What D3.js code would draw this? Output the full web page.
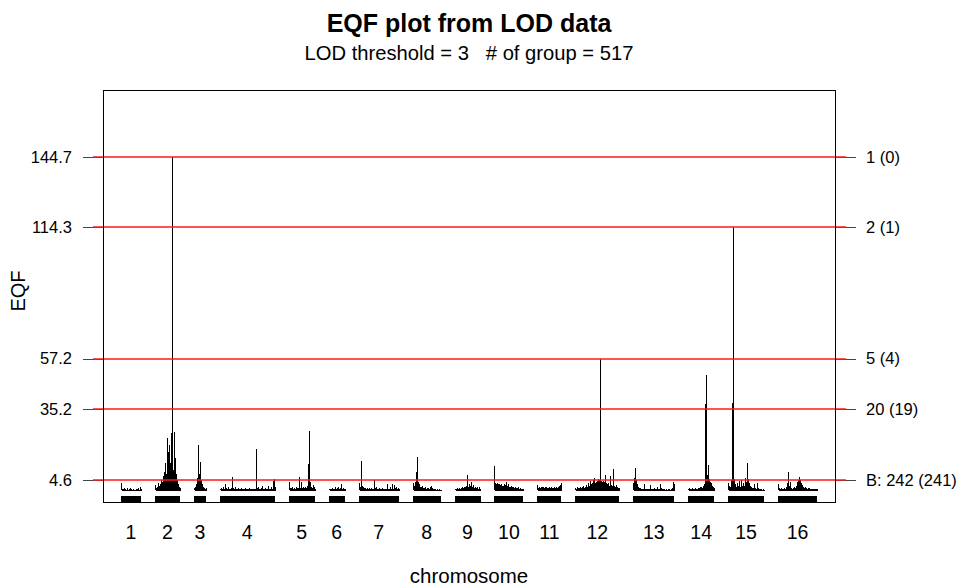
<!DOCTYPE html>
<html>
<head>
<meta charset="utf-8">
<script src="https://cdn.jsdelivr.net/npm/d3@7"></script>
<style>
  body { margin: 0; background: #fff; }
  text { font-family: "Liberation Sans", Arial, sans-serif; fill: #000; }
</style>
</head>
<body>
<div id="chart"></div>
<script>
var width = 959, height = 586;

// chromosome names and their lengths on the map (cM-like units)
var chromosomes = ['1', '2', '3', '4', '5', '6', '7', '8', '9', '10', '11', '12', '13', '14', '15', '16'];
var chrLength = [20, 25, 12, 55, 26, 16, 40, 28, 26, 29, 24, 44, 41, 26, 36, 39];
var chrGap = 14;

// EQF at each map position (one value per unit along the chromosome)
var eqf1 = [3.2, 0.5, 0.4, 1.0, 0.4, 0.3, 0.8, 0.3, 0.4, 0.9, 0.5, 0.3, 0.6, 0.3, 0.3, 0.7, 0.4, 0.9, 0.3, 1.4, 0.6];
var eqf2 = [2.4, 1.0, 1.5, 3.0, 1.8, 2.5, 4.5, 3.5, 6.0, 8.0, 11.7, 7.0, 22.5, 16.8, 19.6, 12.0, 24.7, 144.7, 9.0, 25.4, 14.0, 7.0, 4.5, 2.5, 1.5, 1.0];
var eqf3 = [0.8, 1.5, 2.5, 5.3, 19.6, 7.0, 12.4, 4.5, 2.5, 1.5, 0.8, 0.6, 1.0];
var eqf4 = [0.5, 0.8, 0.5, 1.2, 0.5, 2.5, 1.0, 0.6, 1.6, 0.7, 0.5, 1.0, 5.6, 0.8, 0.6, 1.2, 0.5, 0.4, 0.8, 0.5,
            0.6, 0.9, 0.5, 0.4, 0.6, 0.8, 0.5, 0.4, 0.6, 0.9, 0.4, 0.5, 0.7, 0.4, 0.6, 0.5, 17.9, 0.8, 1.5, 0.6,
            0.5, 0.8, 1.8, 0.6, 0.5, 1.0, 0.4, 0.6, 1.8, 0.5, 0.6, 1.2, 0.5, 4.1, 4.7, 1.5];
var eqf5 = [3.8, 1.0, 0.8, 1.2, 0.6, 0.8, 0.7, 1.2, 0.8, 1.0, 5.7, 0.8, 3.5, 1.0, 1.6, 0.8, 1.6, 1.0, 1.8, 11.3,
            25.8, 3.8, 1.5, 1.0, 2.3, 1.5, 0.6];
var eqf6 = [0.4, 0.6, 0.5, 0.9, 0.5, 0.6, 1.2, 0.5, 0.8, 1.3, 0.6, 0.9, 2.6, 0.7, 1.0, 0.5, 0.4];
var eqf7 = [3.0, 1.5, 12.8, 2.0, 1.2, 0.8, 1.0, 0.6, 0.8, 0.5, 0.9, 0.6, 0.8, 0.5, 0.4, 4.5, 0.8, 1.2, 0.6, 0.5,
            0.9, 0.5, 0.6, 0.8, 0.4, 0.5, 0.6, 0.4, 2.6, 0.7, 0.5, 1.5, 0.6, 2.6, 0.6, 2.3, 0.8, 1.2, 0.5, 1.0, 0.5];
var eqf8 = [3.0, 2.0, 3.8, 8.1, 14.6, 3.8, 2.5, 1.5, 1.2, 2.0, 1.0, 0.8, 1.4, 0.6, 0.8, 1.0, 0.6, 1.2, 1.8, 0.8,
            0.5, 0.4, 0.5, 0.3, 0.4, 0.3, 0.4, 0.3, 0.3];
var eqf9 = [0.4, 0.6, 0.8, 0.5, 1.0, 0.6, 0.8, 1.2, 0.9, 1.5, 1.3, 2.0, 6.7, 1.5, 2.6, 1.2, 1.8, 3.5, 1.5, 2.2,
            1.0, 1.5, 0.8, 1.2, 0.6, 1.5, 0.4];
var eqf10 = [10.7, 3.0, 2.8, 3.2, 2.5, 2.6, 2.2, 2.8, 2.0, 1.8, 2.5, 2.2, 3.5, 2.0, 2.6, 1.6, 1.5, 2.0, 1.2, 1.4,
             1.0, 1.6, 0.9, 0.8, 1.2, 0.6, 0.8, 0.5, 0.7, 0.5];
var eqf11 = [2.3, 1.0, 1.4, 1.1, 1.5, 1.2, 1.3, 1.0, 1.2, 1.4, 1.1, 1.0, 1.3, 1.1, 1.2, 0.9, 1.1, 1.5, 1.0, 1.3,
             0.9, 1.2, 1.8, 2.2, 3.3];
var eqf12 = [0.8, 0.6, 1.2, 0.8, 1.0, 1.5, 0.8, 1.2, 1.8, 1.0, 1.6, 2.4, 1.2, 3.0, 1.8, 4.1, 2.5, 3.0, 4.5, 5.2,
             3.2, 3.8, 4.0, 5.0, 4.5, 57.2, 4.0, 3.8, 4.2, 3.5, 6.6, 3.0, 2.5, 3.2, 2.0, 6.2, 2.2, 1.8, 9.2, 2.0,
             1.5, 2.2, 1.6, 1.0, 0.8];
var eqf13 = [3.0, 5.5, 9.6, 4.5, 2.5, 1.2, 0.8, 1.0, 0.6, 0.5, 0.7, 2.5, 0.5, 0.4, 0.6, 0.4, 0.5, 2.3, 0.5, 0.4,
             0.6, 0.8, 0.4, 0.5, 1.6, 0.4, 0.5, 2.5, 0.8, 0.6, 0.4, 0.5, 0.3, 0.4, 0.3, 0.4, 0.5, 0.3, 0.6, 1.0,
             3.5, 2.5];
var eqf14 = [0.6, 0.8, 0.5, 0.6, 0.8, 0.5, 0.6, 0.9, 0.5, 0.7, 1.0, 0.8, 1.2, 1.5, 1.0, 2.0, 2.5, 37.5, 50.0, 6.5,
             10.9, 5.0, 3.5, 3.0, 2.0, 1.2, 0.8];
var eqf15 = [3.0, 2.0, 1.5, 4.5, 38.0, 114.3, 5.0, 2.5, 1.5, 3.0, 2.0, 4.0, 1.5, 4.5, 2.0, 3.0, 1.8, 5.2, 3.5, 11.7,
             5.0, 3.0, 2.0, 1.2, 1.0, 0.8, 2.6, 1.0, 0.6, 3.0, 0.8, 0.5, 0.4, 0.6, 0.3, 0.4, 0.3];
var eqf16 = [2.6, 0.8, 0.5, 1.0, 0.6, 0.5, 0.8, 0.5, 1.2, 3.0, 7.8, 2.0, 3.8, 1.0, 0.6, 0.8, 1.2, 0.9, 2.0, 3.8,
             4.5, 5.9, 4.5, 3.0, 2.2, 1.5, 1.0, 1.2, 0.8, 0.6, 1.0, 0.8, 0.5, 0.4, 0.5, 0.4, 0.6, 0.4, 0.5, 0.4];
var eqfByChr = [eqf1, eqf2, eqf3, eqf4, eqf5, eqf6, eqf7, eqf8, eqf9, eqf10, eqf11, eqf12, eqf13, eqf14, eqf15, eqf16];

// EQF thresholds: left tick labels and right "rank (count)" labels
var thresholdValues = [4.6, 35.2, 57.2, 114.3, 144.7];
var thresholdTicks = ['4.6', '35.2', '57.2', '114.3', '144.7'];
var thresholdLabels = ['B: 242 (241)', '20 (19)', '5 (4)', '2 (1)', '1 (0)'];

var titleText = 'EQF plot from LOD data';
var subtitleText = 'LOD threshold = 3   # of group = 517';

// start position of every chromosome along the genome axis
var chrStart = [], pos = 0;
for (var i = 0; i < chrLength.length; i++) {
  chrStart.push(pos);
  pos += chrLength[i] + chrGap;
}
var genomeEnd = pos - chrGap;

var box = { left: 103, right: 835, top: 90, bottom: 502 };

var x = d3.scaleLinear().domain([-18, genomeEnd + 18]).range([box.left, box.right]);
var y = d3.scaleLinear().domain([-5.1, 173.8]).range([box.bottom, box.top]);

function px(v) { return Math.round(v) + 0.5; }

var svg = d3.select('#chart').append('svg')
  .attr('width', width)
  .attr('height', height);

// titles
svg.append('text')
  .attr('x', 469).attr('y', 32)
  .attr('text-anchor', 'middle')
  .style('font-size', '25px')
  .style('font-weight', 'bold')
  .text(titleText);

svg.append('text')
  .attr('x', 469).attr('y', 60)
  .attr('text-anchor', 'middle')
  .style('font-size', '20.2px')
  .style('white-space', 'pre')
  .attr('xml:space', 'preserve')
  .text(subtitleText);

// tick marks on both sides
var ticks = svg.append('g');
thresholdValues.forEach(function(v) {
  ticks.append('line')
    .attr('x1', 83).attr('x2', box.left)
    .attr('y1', px(y(v))).attr('y2', px(y(v)))
    .attr('stroke', '#444');
  ticks.append('line')
    .attr('x1', box.right).attr('x2', 856)
    .attr('y1', px(y(v))).attr('y2', px(y(v)))
    .attr('stroke', '#444');
});

// left tick labels
svg.append('g').selectAll('text')
  .data(thresholdValues)
  .enter().append('text')
  .attr('x', 72)
  .attr('y', function(d) { return y(d); })
  .attr('dy', '0.36em')
  .attr('text-anchor', 'end')
  .style('font-size', '16.5px')
  .text(function(d, i) { return thresholdTicks[i]; });

// right labels
svg.append('g').selectAll('text')
  .data(thresholdValues)
  .enter().append('text')
  .attr('x', 866)
  .attr('y', function(d) { return y(d); })
  .attr('dy', '0.36em')
  .style('font-size', '16.5px')
  .text(function(d, i) { return thresholdLabels[i]; });

// EQF spikes, one vertical line per map position
var spikes = svg.append('g').attr('shape-rendering', 'crispEdges');
eqfByChr.forEach(function(values, c) {
  spikes.append('line')
    .attr('x1', px(x(chrStart[c]))).attr('x2', px(x(chrStart[c] + chrLength[c])))
    .attr('y1', Math.round(y(0))).attr('y2', Math.round(y(0)))
    .attr('stroke', '#000');
  spikes.selectAll('line.c' + c)
    .data(values)
    .enter().append('line')
    .attr('class', 'c' + c)
    .attr('x1', function(d, i) { return px(x(chrStart[c] + i)); })
    .attr('x2', function(d, i) { return px(x(chrStart[c] + i)); })
    .attr('y1', Math.round(y(0)))
    .attr('y2', function(d) { return Math.round(y(d)); })
    .attr('stroke', '#000')
    .attr('stroke-width', 1);
});

// chromosome bars under the spikes
svg.append('g').selectAll('rect')
  .data(chromosomes)
  .enter().append('rect')
  .attr('x', function(d, i) { return Math.round(x(chrStart[i])); })
  .attr('width', function(d, i) { return Math.round(x(chrStart[i] + chrLength[i]) - x(chrStart[i])); })
  .attr('y', Math.round(y(-2.5)))
  .attr('height', Math.round(y(-5.1) - y(-2.5)))
  .attr('fill', '#000');

// red threshold lines, drawn over the spikes
svg.append('g').attr('class', 'thresholds').selectAll('line')
  .data(thresholdValues)
  .enter().append('line')
  .attr('x1', 93).attr('x2', 846)
  .attr('y1', function(d) { return Math.round(y(d)); })
  .attr('y2', function(d) { return Math.round(y(d)); })
  .style('stroke', '#ff1a1a')
  .style('stroke-width', 1.6);

// chromosome labels
svg.append('g').selectAll('text')
  .data(chromosomes)
  .enter().append('text')
  .attr('x', function(d, i) { return x(chrStart[i] + chrLength[i] / 2); })
  .attr('y', 539)
  .attr('text-anchor', 'middle')
  .style('font-size', '19.5px')
  .text(function(d) { return d; });

// plot box
svg.append('rect')
  .attr('x', box.left + 0.5).attr('y', box.top + 0.5)
  .attr('width', box.right - box.left).attr('height', box.bottom - box.top)
  .attr('fill', 'none')
  .attr('stroke', '#000');

// axis titles
svg.append('text')
  .attr('x', 469).attr('y', 583)
  .attr('text-anchor', 'middle')
  .style('font-size', '20.5px')
  .text('chromosome');

svg.append('text')
  .attr('transform', 'translate(25,291) rotate(-90)')
  .attr('text-anchor', 'middle')
  .style('font-size', '20px')
  .text('EQF');
</script>
</body>
</html>
